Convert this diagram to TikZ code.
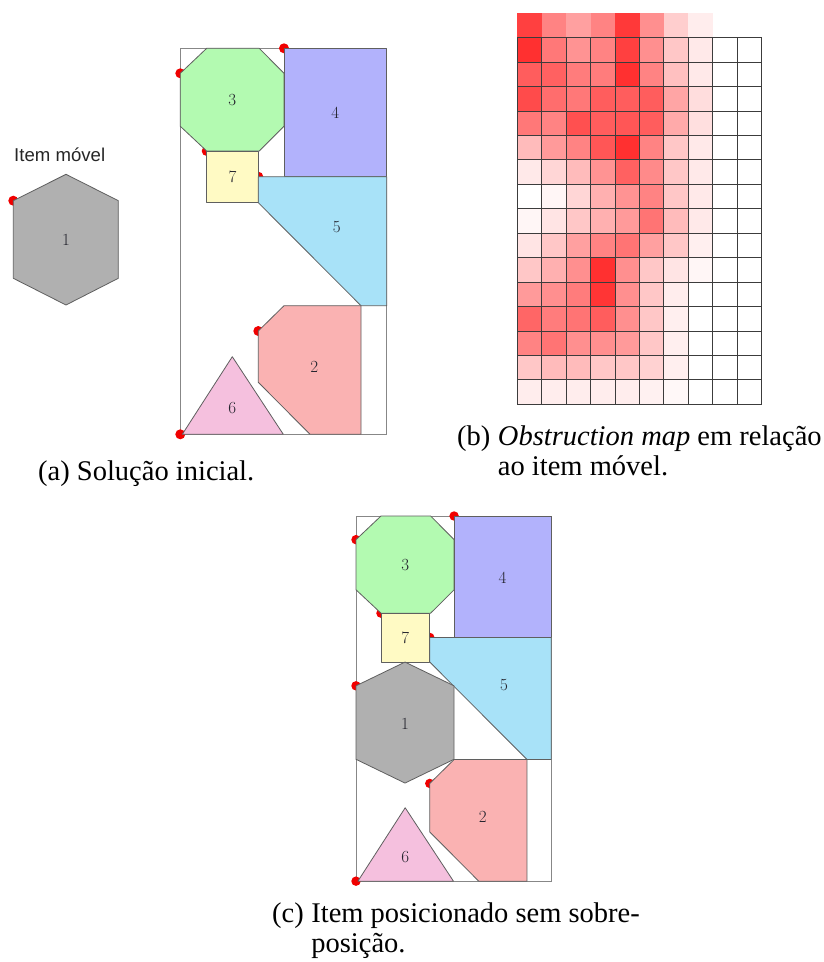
\documentclass[tikz,border=0pt]{standalone}
\usepackage{fontspec}
\newfontfamily\capfont{Liberation Serif}
\newfontfamily\itemfont{Liberation Sans}
\definecolor{hexgray}{RGB}{176,176,176}
\definecolor{octgreen}{RGB}{179,250,177}
\definecolor{boxblue}{RGB}{178,178,252}
\definecolor{sqyellow}{RGB}{255,250,196}
\definecolor{trapblue}{RGB}{168,226,248}
\definecolor{cutpink}{RGB}{250,178,178}
\definecolor{tripink}{RGB}{245,192,222}
\definecolor{edgegray}{RGB}{95,95,95}
\definecolor{boxgray}{RGB}{135,135,135}
\definecolor{dotred}{RGB}{240,0,0}
\definecolor{heat}{RGB}{255,30,30}
\definecolor{gridgray}{RGB}{60,60,60}
\definecolor{labelgray}{RGB}{35,35,45}
\tikzset{
  piece/.style={draw=edgegray, line width=0.8pt, line join=round},
  container/.style={draw=boxgray, line width=0.9pt},
  reddot/.style={fill=dotred, draw=none},
  plabel/.style={font=\fontsize{17}{17}\selectfont, text=labelgray, inner sep=0pt},
  captxt/.style={font=\capfont\fontsize{28.5}{30}\selectfont, anchor=base west, inner sep=0pt},
  gridline/.style={draw=gridgray, line width=0.9pt},
}
\newcommand{\drawpacking}[2]{%
  \draw[container] (0,0) rectangle (206.4,386);
  \fill[reddot] (0,25) circle[radius=5];
  \fill[reddot] (103.7,0) circle[radius=5];
  \fill[reddot] (26.4,102.7) circle[radius=5];
  \fill[reddot] (78,128.4) circle[radius=5];
  \fill[reddot] (78,282.7) circle[radius=5];
  \fill[reddot] (0,386) circle[radius=5];
  \ifnum#2=1 \fill[reddot] (0,179.5) circle[radius=5];\fi
  \filldraw[piece, fill=octgreen] (26.4,0) -- (78.9,0) -- (103.7,25) -- (103.7,78) -- (78.9,102.7) -- (26.4,102.7) -- (0,78) -- (0,25) -- cycle;
  \filldraw[piece, fill=boxblue] (103.7,0) rectangle (206.4,128.4);
  \filldraw[piece, fill=sqyellow] (26.4,102.7) rectangle (78,154.4);
  \filldraw[piece, fill=trapblue] (78,128.4) -- (206.4,128.4) -- (206.4,257.4) -- (180.7,257.4) -- (78,154.4) -- cycle;
  \filldraw[piece, fill=cutpink] (103.7,257.4) -- (180.7,257.4) -- (180.7,386) -- (129.7,386) -- (78,334) -- (78,282.7) -- cycle;
  \filldraw[piece, fill=tripink] (2,386) -- (103,386) -- (52,308.4) -- cycle;
  \ifnum#2=1
    \filldraw[piece, fill=hexgray] (51.8,154.4) -- (103.6,179.5) -- (103.6,257.2) -- (51.8,282.3) -- (0,257.2) -- (0,179.5) -- cycle;
    \node[plabel] (#1-l1) at (51.8,219.5) {1};
  \fi
  \node[plabel] (#1-l3) at (52,51.5) {3};
  \node[plabel] (#1-l4) at (155,65) {4};
  \node[plabel] (#1-l7) at (52.2,128.6) {7};
  \node[plabel] (#1-l5) at (156.4,179) {5};
  \node[plabel] (#1-l2) at (134,318.4) {2};
  \node[plabel] (#1-l6) at (52,360) {6};
}
\begin{document}
\begin{tikzpicture}[x=1pt,y=-1pt]
\useasboundingbox (0,0) rectangle (824,962);
\fill[white] (0,0) rectangle (824,962);

% ---- (a) ----
\node[anchor=base west, font=\itemfont\fontsize{18.6}{20}\selectfont, inner sep=0pt, text=black!85] (itemlabel) at (14,161.7) {Item móvel};
\fill[reddot] (13.3,200.7) circle[radius=5];
\filldraw[piece, fill=hexgray] (66,174.3) -- (118.3,200.7) -- (118.3,278.3) -- (66,305) -- (13.3,278.3) -- (13.3,200.7) -- cycle;
\node[plabel] (free1) at (66,240) {1};
\begin{scope}[shift={(180.3,48.3)}]
  \drawpacking{a}{0}
\end{scope}
\node[captxt] (capa) at (38,480) {(a) Solução inicial.};

% ---- (b) heat map ----
\begin{scope}[shift={(517.3,37.7)}]
  \foreach \rw/\vals in {
     0/{85,55,42,55,88,50,22,8,0,0},
     1/{92,60,48,55,85,50,25,10,0,0},
     2/{72,70,58,58,92,55,28,10,0,0},
     3/{80,65,60,72,72,72,40,15,0,0},
     4/{60,55,78,72,75,72,38,14,0,0},
     5/{30,45,55,75,92,55,25,10,0,0},
     6/{10,18,30,48,70,52,25,10,0,0},
     7/{0,4,18,35,48,55,25,10,0,0},
     8/{4,12,25,35,45,62,30,10,0,0},
     9/{12,25,42,55,62,42,25,7,0,0},
    10/{25,35,50,92,50,25,12,4,0,0},
    11/{45,50,58,90,50,25,8,0,0,0},
    12/{68,58,62,72,50,25,7,0,0,0},
    13/{55,62,50,50,45,25,7,0,0,0},
    14/{25,30,30,25,25,20,7,0,0,0},
    15/{8,8,8,8,8,6,3,0,0,0}}{
    \foreach \vl [count=\cl from 0] in \vals {
      \fill[heat!\vl!white] (\cl*24.44,\rw*24.44-24.44) rectangle ++(24.44,24.44);
    }
  }
  \foreach \i in {0,...,10} \draw[gridline] (\i*24.44,0) -- (\i*24.44,366.6);
  \foreach \j in {0,...,15} \draw[gridline] (0,\j*24.44) -- (244.4,\j*24.44);
\end{scope}
\node[captxt] (capb) at (457,445) {(b)\ \mbox{}};
\node[captxt] (capb1) at (capb.base east) {\textit{Obstruction map} em relação};
\node[captxt] (capb2) at ([yshift=-30pt]capb.base east) {ao item móvel.};

% ---- (c) ----
\begin{scope}[shift={(356,516)}, scale=0.946]
  \drawpacking{c}{1}
\end{scope}
\node[captxt] (capc) at (272,922) {(c)\ \mbox{}};
\node[captxt] (capc1) at (capc.base east) {Item posicionado sem sobre-};
\node[captxt] (capc2) at ([yshift=-30pt]capc.base east) {posição.};
\end{tikzpicture}
\end{document}
